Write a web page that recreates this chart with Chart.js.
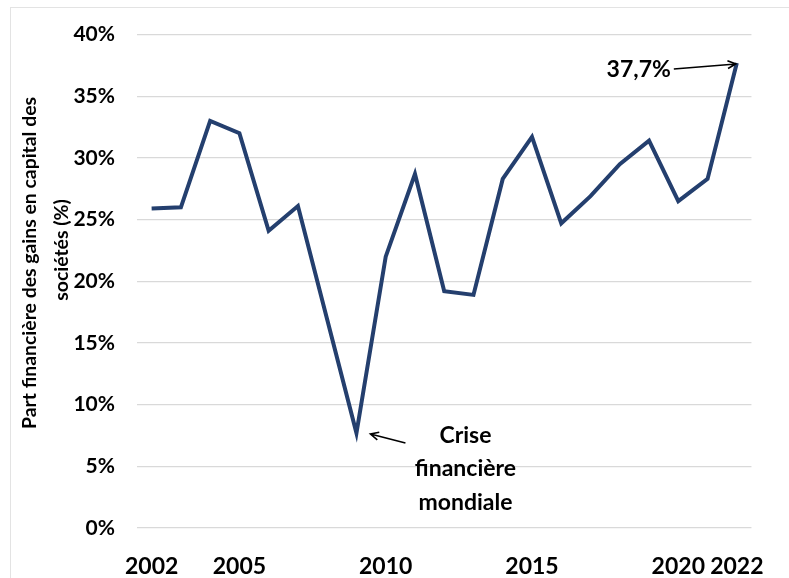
<!DOCTYPE html>
<html>
<head>
<meta charset="utf-8">
<script src="https://cdn.jsdelivr.net/npm/chart.js@4"></script>
<style>
    body { margin: 0; background: #fff; }
    #cadre { position: absolute; left: 10px; top: 7px; width: 800px; height: 600px; border: 1px solid #e3e3e3; }
    #zone { position: absolute; left: 0; top: 0; width: 789px; height: 578px; }
</style>
</head>
<body>
<div id="cadre"></div>
<div id="zone"><canvas id="graphique"></canvas></div>
<script>
const annees = ['2002', '2003', '2004', '2005', '2006', '2007', '2008', '2009', '2010', '2011', '2012',
    '2013', '2014', '2015', '2016', '2017', '2018', '2019', '2020', '2021', '2022'];
const partFinanciere = [25.9, 26.0, 33.0, 32.0, 24.1, 26.1, 16.9, 7.7, 22.0, 28.7, 19.2,
    18.9, 28.3, 31.7, 24.7, 26.9, 29.5, 31.4, 26.5, 28.3, 37.7];
const anneesAffichees = ['2002', '2005', '2010', '2015', '2020', '2022'];
const titreAxe = ['Part financière des gains en capital des', 'sociétés (%)'];

const police = 'Lato, "Open Sans", sans-serif';

function fleche(ctx, x1, y1, x2, y2) {
    const a = Math.atan2(y2 - y1, x2 - x1);
    ctx.beginPath();
    ctx.moveTo(x1, y1);
    ctx.lineTo(x2, y2);
    ctx.moveTo(x2 - 9 * Math.cos(a - 0.45), y2 - 9 * Math.sin(a - 0.45));
    ctx.lineTo(x2, y2);
    ctx.lineTo(x2 - 9 * Math.cos(a + 0.45), y2 - 9 * Math.sin(a + 0.45));
    ctx.stroke();
}

// titre de l'axe Y dessiné à la main (décalé comme dans l'original)
const titreY = {
    id: 'titreY',
    afterDraw(chart) {
        const ctx = chart.ctx;
        ctx.save();
        ctx.font = 'bold 20px ' + police;
        const taille = 20 * 333 / ctx.measureText(titreAxe[0]).width;
        ctx.font = 'bold ' + taille.toFixed(1) + 'px ' + police;
        ctx.fillStyle = '#000';
        ctx.textAlign = 'center';
        ctx.textBaseline = 'middle';
        ctx.translate(30, 263);
        ctx.rotate(-Math.PI / 2);
        ctx.fillText(titreAxe[0], 0, 0);
        ctx.fillText(titreAxe[1], 13, 32);
        ctx.restore();
    }
};

// annotations : valeur finale et crise de 2009
const annotations = {
    id: 'annotations',
    afterDatasetsDraw(chart) {
        const ctx = chart.ctx;
        const x = chart.scales.x, y = chart.scales.y;
        ctx.save();
        ctx.fillStyle = '#000';
        ctx.strokeStyle = '#000';
        ctx.lineWidth = 1.6;
        ctx.font = 'bold 23px ' + police;
        ctx.textBaseline = 'middle';

        const xf = x.getPixelForValue(20), yf = y.getPixelForValue(partFinanciere[20]);
        ctx.textAlign = 'right';
        ctx.fillText('37,7%', xf - 66, yf + 7);
        fleche(ctx, xf - 63, yf + 6, xf - 1, yf + 1);

        const xc = x.getPixelForValue(7), yc = y.getPixelForValue(partFinanciere[7]);
        ctx.textAlign = 'center';
        ctx.fillText('Crise', xc + 109, yc + 3);
        ctx.fillText('financière', xc + 109, yc + 36);
        ctx.fillText('mondiale', xc + 109, yc + 70);
        fleche(ctx, xc + 49, yc + 10, xc + 14, yc + 1);
        ctx.restore();
    }
};

window.onload = function () {
    const ctx = document.getElementById('graphique').getContext('2d');
    new Chart(ctx, {
        type: 'line',
        data: {
            labels: annees,
            datasets: [{
                data: partFinanciere,
                borderColor: '#243f6e',
                borderWidth: 4,
                pointRadius: 0,
                tension: 0,
                fill: false
            }]
        },
        plugins: [annotations, titreY],
        options: {
            responsive: true,
            maintainAspectRatio: false,
            animation: false,
            layout: { padding: { top: 23, right: 21, bottom: 0, left: 0 } },
            plugins: { legend: { display: false }, tooltip: { enabled: false } },
            scales: {
                x: {
                    offset: true,
                    grid: { display: false, drawTicks: false },
                    border: { display: false },
                    ticks: {
                        autoSkip: false,
                        maxRotation: 0,
                        padding: 25,
                        color: '#000',
                        font: { family: police, size: 23, weight: 'bold' },
                        callback: function (v) {
                            const a = this.getLabelForValue(v);
                            return anneesAffichees.includes(a) ? a : '';
                        }
                    },
                    afterFit: s => { s.height = 50; }
                },
                y: {
                    min: 0,
                    max: 40,
                    grid: { color: '#d9d9d9', lineWidth: 1.2, drawTicks: false },
                    border: { display: false },
                    ticks: {
                        stepSize: 5,
                        padding: 22,
                        color: '#000',
                        font: { family: police, size: 21, weight: 'bold' },
                        callback: v => v + '%'
                    },
                    afterFit: s => { s.width = 137; }
                }
            }
        }
    });
}
</script>
</body>
</html>
